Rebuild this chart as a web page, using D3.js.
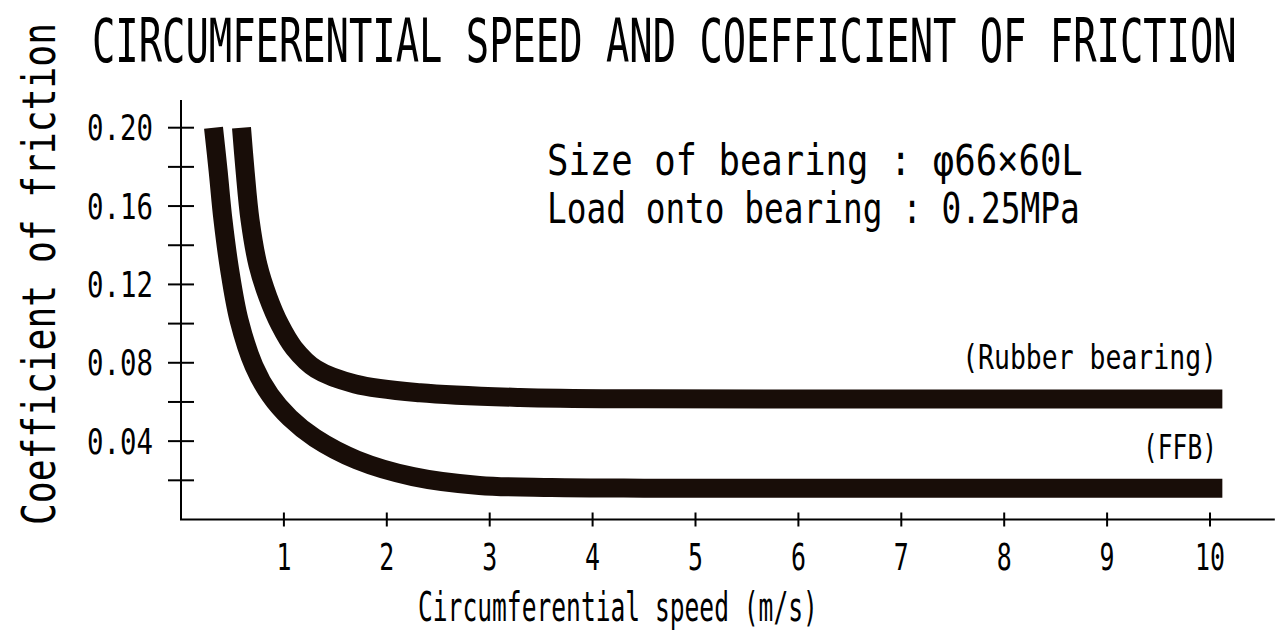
<!DOCTYPE html>
<html lang="en">
<head>
  <meta charset="utf-8" />
  <title>Circumferential speed and coefficient of friction</title>
  <script src="https://d3js.org/d3.v7.min.js"></script>
  <style>
    body { margin: 0; background: #fff; }
    svg text { font-family: "DejaVu Sans Mono", "Liberation Mono", monospace; fill: #000; }
  </style>
</head>
<body>
<svg width="1278" height="631"></svg>
<script>

// values
var speedFFB = [0.316, 0.360, 0.408, 0.473, 0.564, 0.709, 0.865, 1.059, 1.302, 1.710, 2.255, 2.9, 3.6, 4.5, 6, 8, 10.12];
var frictionFFB = [0.200, 0.1784, 0.1529, 0.1274, 0.1018, 0.0784, 0.0636, 0.0518, 0.0416, 0.0304, 0.0219, 0.0174, 0.0163, 0.0160, 0.016, 0.016, 0.016];

var speedRubber = [0.588, 0.622, 0.671, 0.748, 0.845, 0.962, 1.098, 1.312, 1.691, 2.323, 3.294, 4.5, 6, 8, 10.12];
var frictionRubber = [0.200, 0.1784, 0.1529, 0.1299, 0.1136, 0.0993, 0.0875, 0.0768, 0.0692, 0.0647, 0.0623, 0.0616, 0.0615, 0.0615, 0.0615];

var xTicks = [1, 2, 3, 4, 5, 6, 7, 8, 9, 10];
var yTicks = [0.02, 0.04, 0.06, 0.08, 0.10, 0.12, 0.14, 0.16, 0.18, 0.20];
var yLabelTicks = [0.04, 0.08, 0.12, 0.16, 0.20];

var title = "CIRCUMFERENTIAL SPEED AND COEFFICIENT OF FRICTION";
var xTitle = "Circumferential speed (m/s)";
var yTitle = "Coefficient of friction";
var note1 = "Size of bearing : φ66×60L";
var note2 = "Load onto bearing : 0.25MPa";

var svg = d3.select("svg");

var x = d3.scaleLinear().domain([0, 10]).range([181, 1210]);
var y = d3.scaleLinear().domain([0, 0.2]).range([519.5, 127.7]);

// condensed look: squeeze the text horizontally to the measured width
function label(str, px, py, size, len, anchor, rot) {
  var t = svg.append("text")
    .attr("font-size", size)
    .attr("text-anchor", anchor || "start")
    .text(str);
  var sx = len / t.node().getComputedTextLength();
  t.attr("transform", "translate(" + px + "," + py + ")" + (rot ? " rotate(" + rot + ")" : "") + " scale(" + sx + ",1)");
  return t;
}

// axes
svg.append("line")
  .attr("x1", x(0)).attr("x2", x(0))
  .attr("y1", 100).attr("y2", y(0))
  .attr("stroke", "#000").attr("stroke-width", 2);

svg.append("line")
  .attr("x1", x(0) - 1).attr("x2", x(10.63))
  .attr("y1", y(0)).attr("y2", y(0))
  .attr("stroke", "#000").attr("stroke-width", 2);

svg.selectAll(".ytick")
  .data(yTicks)
  .enter()
  .append("line")
  .attr("class", "ytick")
  .attr("x1", x(0) - 13).attr("x2", x(0) + 13)
  .attr("y1", function(d) { return y(d); })
  .attr("y2", function(d) { return y(d); })
  .attr("stroke", "#000").attr("stroke-width", 2);

svg.selectAll(".xtick")
  .data(xTicks)
  .enter()
  .append("line")
  .attr("class", "xtick")
  .attr("x1", function(d) { return x(d); })
  .attr("x2", function(d) { return x(d); })
  .attr("y1", y(0) - 7).attr("y2", y(0) + 7)
  .attr("stroke", "#000").attr("stroke-width", 2);

yLabelTicks.forEach(function(d) {
  label(d3.format(".2f")(d), 153, y(d) + 12.5, 35, 66, "end");
});

xTicks.forEach(function(d) {
  label(String(d), x(d), 570, 37, String(d).length * 15, "middle");
});

// curves
var line = d3.line()
  .x(function(d) { return x(d[0]); })
  .y(function(d) { return y(d[1]); })
  .curve(d3.curveCatmullRom.alpha(0.5));

svg.append("path")
  .datum(d3.zip(speedFFB, frictionFFB))
  .attr("d", line)
  .attr("fill", "none")
  .attr("stroke", "#180d08")
  .attr("stroke-width", 19);

svg.append("path")
  .datum(d3.zip(speedRubber, frictionRubber))
  .attr("d", line)
  .attr("fill", "none")
  .attr("stroke", "#180d08")
  .attr("stroke-width", 19);

// texts
label(title, 92, 62, 60, 1145);
label(note1, 547, 175, 42, 536);
label(note2, 547, 223, 42, 533);
label("(Rubber bearing)", 1217, 369, 34, 255, "end");
label("(FFB)", 1217, 459, 34, 74, "end");
label(xTitle, 418, 621, 41, 400);
label(yTitle, 55, 525, 47, 502, "start", -90);

</script>
</body>
</html>
